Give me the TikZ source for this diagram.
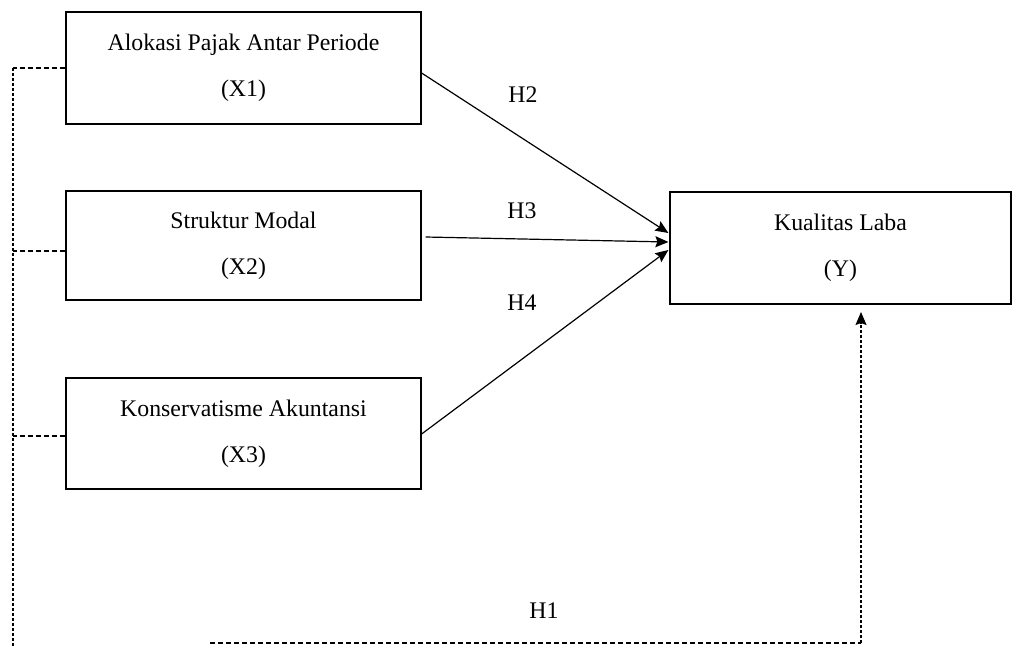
\documentclass[tikz,border=0pt]{standalone}
\usepackage{fontspec}
\setmainfont{Liberation Serif}
\usetikzlibrary{arrows.meta}
\begin{document}
\begin{tikzpicture}[x=1pt,y=-1pt,
  box/.style={draw, line width=1.2pt, inner sep=0pt, align=center, font=\fontsize{23.8}{46}\selectfont},
  lab/.style={inner sep=0pt, anchor=base, font=\fontsize{23.8}{27}\selectfont},
  tip/.style={-{Stealth[length=13pt,width=11pt,inset=2pt]}},
  conn/.style={line width=1.2pt, tip},
  hdash/.style={line width=1.3pt, dash pattern=on 5pt off 3pt},
  vdash/.style={line width=1.3pt, dash pattern=on 3pt off 2pt}
]
\useasboundingbox (0,0) rectangle (1017,646);
\node[box, minimum width=355pt, minimum height=112pt] (x1) at (243.5,68) {Alokasi Pajak Antar Periode\\(X1)};
\node[box, minimum width=355pt, minimum height=109pt] (x2) at (243.5,245.5) {Struktur Modal\\(X2)};
\node[box, minimum width=355pt, minimum height=111pt] (x3) at (243.5,433.5) {Konservatisme Akuntansi\\(X3)};
\node[box, minimum width=341pt, minimum height=112pt] (y) at (840.5,248) {Kualitas Laba\\(Y)};

\node[lab] (h2) at (523,102) {H2};
\node[lab] (h3) at (522,218) {H3};
\node[lab] (h4) at (522,310) {H4};
\node[lab] (h1) at (544,618) {H1};

\draw[conn] ([yshift=-5pt]x1.east) -- ([yshift=15pt,xshift=-1pt]y.west);
\draw[conn] ([xshift=4pt,yshift=8.5pt]x2.east) -- ([yshift=6pt,xshift=-1pt]y.west);
\draw[conn] ([yshift=-0.5pt]x3.east) -- ([yshift=-2pt,xshift=-1pt]y.west);

\coordinate (ltop) at (13,68);
\coordinate (lbot) at (13,646);
\coordinate (a2) at ([yshift=-5.5pt]x2.west);
\coordinate (a3) at ([yshift=-2.5pt]x3.west);
\coordinate (bl) at (210,643);
\coordinate (br) at (861,643);
\coordinate (yt) at (861,312);
\draw[hdash] (x1.west) -- (ltop);
\draw[vdash] (ltop) -- (lbot);
\draw[hdash] (a2) -- (ltop |- a2);
\draw[hdash] (a3) -- (ltop |- a3);
\draw[hdash] (bl) -- (br);
\draw[vdash, tip] (br) -- (yt);
\end{tikzpicture}
\end{document}
